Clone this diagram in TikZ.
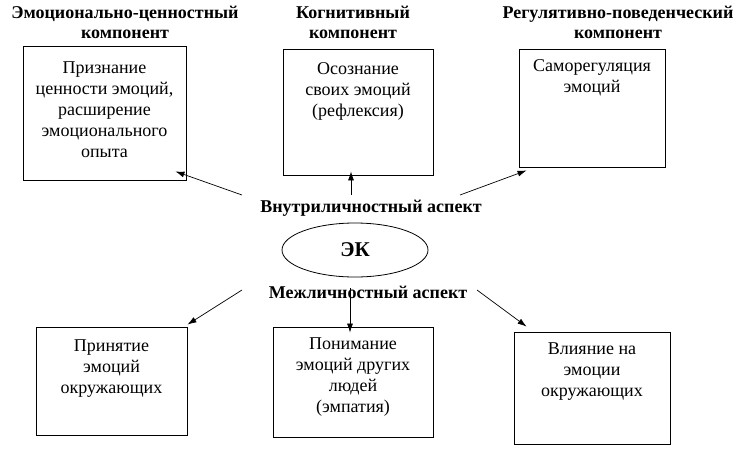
\documentclass[tikz,border=0pt]{standalone}
\usepackage{fontspec}
\setmainfont{Liberation Serif}
\usetikzlibrary{arrows.meta,positioning,shapes.geometric}
\tikzstyle{box}=[draw,line width=0.9pt,inner sep=0pt]
\tikzstyle{boxtext}=[align=center,font=\fontsize{18}{21}\selectfont,inner sep=0pt]
\tikzstyle{head}=[align=center,font=\bfseries\fontsize{18}{20}\selectfont,inner sep=0pt]
\tikzstyle{aspect}=[font=\bfseries\fontsize{18}{20}\selectfont,inner sep=0pt]
\tikzstyle{edge}=[draw,line width=0.7pt,-{Latex[length=9pt,width=6pt]}]

\begin{document}
\begin{tikzpicture}[x=1pt,y=-1pt]
  \useasboundingbox (0,0) rectangle (738,448);

  % blocks
  \foreach \pos/\w/\h/\name in {{(104.5,113)/163/134/b1}, {(358,112)/150/126/b2}, {(592,108)/146/118/b3},
      {(111.5,381)/151/108/b4}, {(353,382)/160/110/b5}, {(592,388)/156/112/b6}}
    \node[box, minimum width=\w pt, minimum height=\h pt] (\name) at \pos {};

  \node[boxtext, below=16pt of b1.north] (t1) {Признание\\ценности эмоций,\\расширение\\эмоционального\\опыта};
  \node[boxtext, below=14pt of b2.north] (t2) {Осознание\\своих эмоций\\(рефлексия)};
  \node[boxtext, below=11pt of b3.north] (t3) {Саморегуляция\\эмоций};
  \node[boxtext, below=13pt of b4.north] (t4) {Принятие\\эмоций\\окружающих};
  \node[boxtext, below=11pt of b5.north] (t5) {Понимание\\эмоций других\\людей\\(эмпатия)};
  \node[boxtext, below=11pt of b6.north] (t6) {Влияние на\\эмоции\\окружающих};

  % headings
  \node[head] (h1) at (125,22) {Эмоционально-ценностный\\компонент};
  \node[head] (h2) at (353,22) {Когнитивный\\компонент};
  \node[head] (h3) at (618,22) {Регулятивно-поведенческий\\компонент};

  % center
  \node[draw, ellipse, line width=0.8pt, minimum width=146pt, minimum height=54pt, inner sep=0pt,
        font=\bfseries\fontsize{21}{22}\selectfont] (ek) at (355,250) {ЭК};
  \node[aspect] (intra) at (371,208) {Внутриличностный аспект};
  \node[aspect] (inter) at (368,292) {Межличностный аспект};

  \coordinate (u1) at (242,195);
  \coordinate (u2) at (351,195);
  \coordinate (u3) at (460,195);
  \coordinate (d1) at (242,290);
  \coordinate (d2) at (350,288);
  \coordinate (d3) at (477,290);

  \path[edge] (u1) -- ([xshift=-11pt,yshift=9pt]b1.south east);
  \path[edge] (u2) -- ([xshift=-7pt,yshift=4pt]b2.south);
  \path[edge] (u3) -- ([xshift=8pt,yshift=-3pt]b3.south west);
  \path[edge] (d1) -- ([yshift=2pt]b4.north east);
  \path[edge] (d2) -- ([xshift=-3pt,yshift=-6pt]b5.north);
  \path[edge] (d3) -- ([xshift=13pt,yshift=5pt]b6.north west);
\end{tikzpicture}
\end{document}
